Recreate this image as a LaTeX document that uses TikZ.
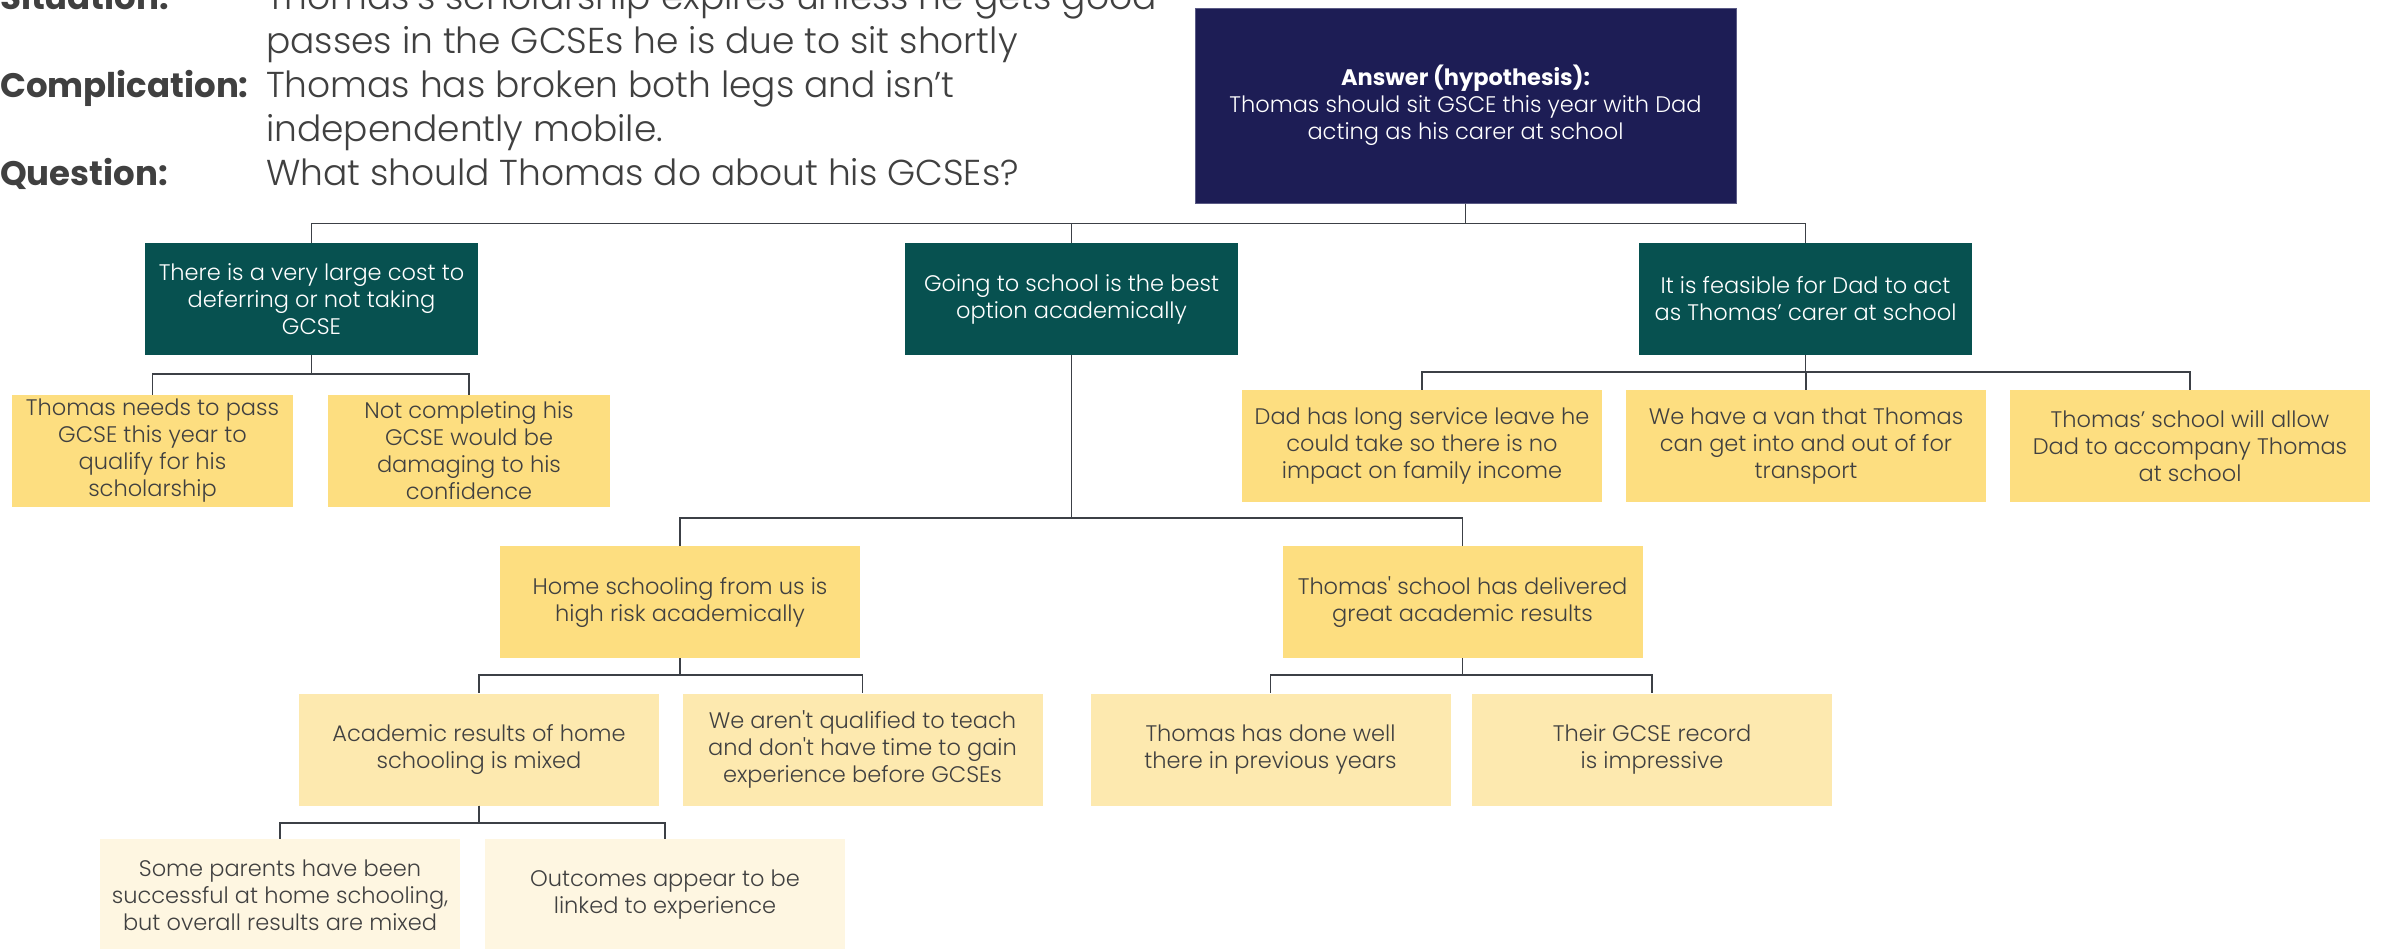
\documentclass[tikz,border=0pt]{standalone}
\usepackage{fontspec}
\setmainfont{Poppins}
\newfontfamily\lightfont{Poppins Light}
\definecolor{navy}{HTML}{1D1D55}
\definecolor{navyline}{HTML}{5A5A85}
\definecolor{teal}{HTML}{075150}
\definecolor{gold}{HTML}{FDDE80}
\definecolor{cream}{HTML}{FDE9AF}
\definecolor{pale}{HTML}{FEF6E1}
\definecolor{ink}{HTML}{404040}
\definecolor{wire}{HTML}{3C4046}
\newcommand\boxfont{\lightfont\fontsize{22.5}{27}\selectfont}
\newcommand\headfont{\lightfont\fontsize{36}{44}\selectfont}
\newcommand\labfont{\fontsize{34}{44}\selectfont\bfseries}
\begin{document}
\begin{tikzpicture}[x=1pt,y=-1pt,
  box/.style={rectangle, inner sep=0pt, align=center, font=\boxfont,
    text=ink, minimum height=112pt, minimum width=360pt},
  answer/.style={box, fill=navy, draw=navyline, line width=1pt, text=white,
    minimum width=541pt, minimum height=195pt},
  reason/.style={box, fill=teal, text=white, minimum width=333pt},
  lvltwo/.style={box, fill=gold},
  lvlthree/.style={box, fill=cream},
  lvlfour/.style={box, fill=pale},
  conn/.style={draw=wire, line width=1.8pt},
  lab/.style={anchor=base west, inner sep=0pt, font=\labfont, text=ink},
  txt/.style={anchor=base west, inner sep=0pt, font=\headfont, text=ink}]
\useasboundingbox (0,0) rectangle (2382,948);
\clip (0,0) rectangle (2382,948);

% situation / complication / question
\node[lab] (sitl) at (0,9) {Situation:};
\node[txt] (sit1) at (266,9) {Thomas’s scholarship expires unless he gets good};
\node[txt] (sit2) at (266,53) {passes in the GCSEs he is due to sit shortly};
\node[lab] (coml) at (0,97) {Complication:};
\node[txt] (com1) at (266,97) {Thomas has broken both legs and isn’t};
\node[txt] (com2) at (266,141) {independently mobile.};
\node[lab] (quel) at (0,185) {Question:};
\node[txt] (que1) at (266,185) {What should Thomas do about his GCSEs?};

% answer
\node[answer] (ans) at (1465.5,105.5) {{\normalfont\fontsize{22.5}{27}\selectfont\bfseries Answer (hypothesis):}\\Thomas should sit GSCE this year with Dad\\acting as his carer at school};

% supporting reasons
\node[reason] (A) at (311.5,299) {There is a very large cost to\\deferring or not taking\\GCSE};
\node[reason] (B) at (1071.5,299) {Going to school is the best\\option academically};
\node[reason] (C) at (1805.5,299) {It is feasible for Dad to act\\as Thomas’ carer at school};

% cost branch
\node[lvltwo, minimum width=281pt] (A1) at (152.5,451) {Thomas needs to pass\\GCSE this year to\\qualify for his\\scholarship};
\node[lvltwo, minimum width=282pt] (A2) at (469,451) {Not completing his\\GCSE would be\\damaging to his\\confidence};

% feasibility branch
\node[lvltwo] (C1) at (1422,446) {Dad has long service leave he\\could take so there is no\\impact on family income};
\node[lvltwo] (C2) at (1806,446) {We have a van that Thomas\\can get into and out of for\\transport};
\node[lvltwo] (C3) at (2190,446) {Thomas’ school will allow\\Dad to accompany Thomas\\at school};

% academic branch
\node[lvltwo] (B1) at (680,602) {Home schooling from us is\\high risk academically};
\node[lvltwo] (B2) at (1462.5,602) {Thomas' school has delivered\\great academic results};
\node[lvlthree] (B1a) at (479,749.5) {Academic results of home\\schooling is mixed};
\node[lvlthree] (B1b) at (862.5,749.5) {We aren't qualified to teach\\and don't have time to gain\\experience before GCSEs};
\node[lvlthree] (B2a) at (1270.5,749.5) {Thomas has done well\\there in previous years};
\node[lvlthree] (B2b) at (1652,749.5) {Their GCSE record\\is impressive};
\node[lvlfour] (B1a1) at (280,895) {Some parents have been\\successful at home schooling,\\but overall results are mixed};
\node[lvlfour] (B1a2) at (665,895) {Outcomes appear to be\\linked to experience};

% connectors
\foreach \c in {A,B,C} \draw[conn] (ans.south) -- ++(0,20) -| (\c.north);
\foreach \c in {A1,A2} \draw[conn] (A.south) -- ++(0,19) -| (\c.north);
\foreach \c in {C1,C2,C3} \draw[conn] (C.south) -- ++(0,17) -| (\c.north);
\foreach \c in {B1,B2} \draw[conn] (B.south) -- ++(0,163) -| (\c.north);
\foreach \c in {B1a,B1b} \draw[conn] (B1.south) -- ++(0,17) -| (\c.north);
\foreach \c in {B2a,B2b} \draw[conn] (B2.south) -- ++(0,17) -| (\c.north);
\foreach \c in {B1a1,B1a2} \draw[conn] (B1a.south) -- ++(0,17) -| (\c.north);
\end{tikzpicture}
\end{document}
